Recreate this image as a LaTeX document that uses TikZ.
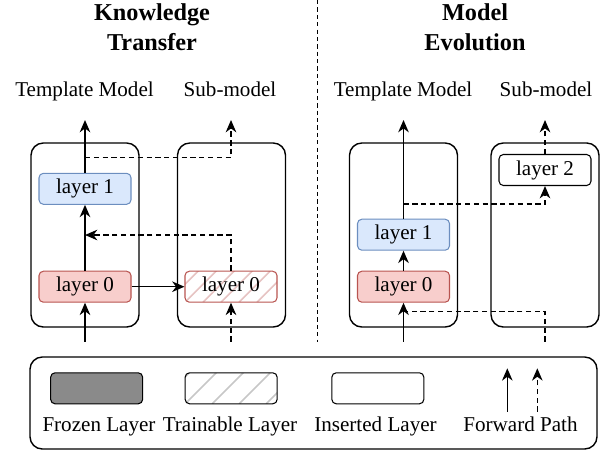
\documentclass[tikz,border=0pt]{standalone}
\usepackage{fontspec}
\setmainfont{Liberation Serif}
\usepackage{tikz}
\usetikzlibrary{arrows.meta,positioning,calc}
\definecolor{figblue}{HTML}{DAE8FC}
\definecolor{figblueline}{HTML}{6C8EBF}
\definecolor{figred}{HTML}{F8CECC}
\definecolor{figredline}{HTML}{B85450}
\definecolor{figgrey}{HTML}{8A8A8A}

\tikzset{
  txt/.style={font=\fontsize{12}{14}\selectfont, inner sep=0pt},
  headtxt/.style={font=\fontsize{13.8}{16.6}\selectfont\bfseries, align=center, inner sep=0pt},
  panel/.style={draw, line width=0.8pt, rounded corners=7pt,
    minimum width=2.16cm, minimum height=3.68cm},
  layerbox/.style={draw, line width=0.6pt, rounded corners=2.5pt,
    minimum width=1.84cm, minimum height=0.62cm,
    font=\fontsize{12}{14}\selectfont, inner sep=0pt},
  hatch/.style 2 args={path picture={
    \foreach \k in {-4,...,8}
      \draw[#1, line width=0.9pt]
        ($(path picture bounding box.south west)+(\k*#2,0)$) -- ++(1.2,1.2);
  }},
  fwd/.style={-{Stealth[length=7pt,width=6pt,inset=2.2pt]}, line width=0.9pt},
  fwddash/.style={fwd, dash pattern=on 3pt off 2pt},
  dashline/.style={line width=0.9pt, dash pattern=on 3pt off 2pt},
}

\begin{document}
\begin{tikzpicture}[x=1cm,y=1cm]
\useasboundingbox (0,0) rectangle (12.1,9.02);

% headings
\node[headtxt, anchor=base] (headA) at (3.04,8.02) {Knowledge\\Transfer};
\node[headtxt, anchor=base] (headB) at (9.50,8.02) {Model\\Evolution};
\draw[line width=0.5pt, dash pattern=on 2.4pt off 1.8pt] (6.34,9.02) -- (6.34,2.18);

\node[txt, anchor=base] (nameTA) at (1.69,7.086) {Template Model};
\node[txt, anchor=base] (nameSA) at (4.60,7.086) {Sub-model};
\node[txt, anchor=base] (nameTB) at (8.06,7.086) {Template Model};
\node[txt, anchor=base] (nameSB) at (10.92,7.086) {Sub-model};

% knowledge transfer: template model and sub-model
\node[panel] (tmA) at (1.70,4.32) {};
\node[panel] (smA) at (4.63,4.32) {};
\node[layerbox, fill=figblue, draw=figblueline] (tl1A) at (1.70,5.244) {layer 1};
\node[layerbox, fill=figred, draw=figredline] (tl0A) at (1.70,3.286) {layer 0};
\node[layerbox, draw=figredline, hatch={figredline!35}{0.36}] (sl0A) at (4.62,3.286) {layer 0};

\coordinate (inA) at (1.70,2.186);
\coordinate (outA) at (1.70,6.62);
\coordinate (brA) at (1.70,5.866);
\coordinate (mergeA) at (1.70,4.32);
\coordinate (inSubA) at (4.62,2.186);
\coordinate (outSubA) at (4.62,6.62);

\draw[fwd] (inA) -- (tl0A);
\draw[fwd] (tl0A) -- (tl1A);
\draw[fwd] (tl1A) -- (outA);
\draw[fwd] (tl0A) -- (sl0A);
\draw[fwddash] (brA) -| (outSubA);
\draw[fwddash] (sl0A.north) |- (mergeA);
\draw[fwddash] (inSubA) -- (sl0A);

% model evolution: template model and grown sub-model
\node[panel] (tmB) at (8.07,4.32) {};
\node[panel] (smB) at (10.90,4.32) {};
\node[layerbox, fill=figblue, draw=figblueline] (tl1B) at (8.07,4.326) {layer 1};
\node[layerbox, fill=figred, draw=figredline] (tl0B) at (8.07,3.286) {layer 0};
\node[layerbox, draw=black, fill=white] (sl2B) at (10.90,5.62) {layer 2};

\coordinate (inB) at (8.07,2.186);
\coordinate (outB) at (8.07,6.62);
\coordinate (brB) at (8.07,4.94);
\coordinate (mergeB) at (8.07,2.786);
\coordinate (inSubB) at (10.90,2.186);
\coordinate (outSubB) at (10.90,6.62);

\draw[fwd] (inB) -- (tl0B);
\draw[fwd] (tl0B) -- (tl1B);
\draw[fwd] (tl1B) -- (outB);
\draw[fwddash] (brB) -| (sl2B.south);
\draw[fwddash] (sl2B) -- (outSubB);
\draw[dashline] (inSubB) |- (mergeB);

% legend
\node[draw, line width=0.8pt, rounded corners=7pt,
  minimum width=11.34cm, minimum height=1.84cm] (legend) at (6.27,0.96) {};
\node[layerbox, fill=figgrey, draw=black] (keyFrozen) at (1.933,1.254) {};
\node[layerbox, draw=black, hatch={black!22}{0.54}] (keyTrain) at (4.623,1.254) {};
\node[layerbox, draw=black, fill=white] (keyInsert) at (7.557,1.254) {};
\coordinate (keyA0) at (10.146,0.786);
\coordinate (keyA1) at (10.146,1.654);
\coordinate (keyB0) at (10.746,0.786);
\coordinate (keyB1) at (10.746,1.654);
\draw[fwd] (keyA0) -- (keyA1);
\draw[fwddash] (keyB0) -- (keyB1);

\node[txt, anchor=base] (labFrozen) at (1.98,0.386) {Frozen Layer};
\node[txt, anchor=base] (labTrain) at (4.60,0.386) {Trainable Layer};
\node[txt, anchor=base] (labInsert) at (7.51,0.386) {Inserted Layer};
\node[txt, anchor=base] (labPath) at (10.41,0.386) {Forward Path};
\end{tikzpicture}
\end{document}
